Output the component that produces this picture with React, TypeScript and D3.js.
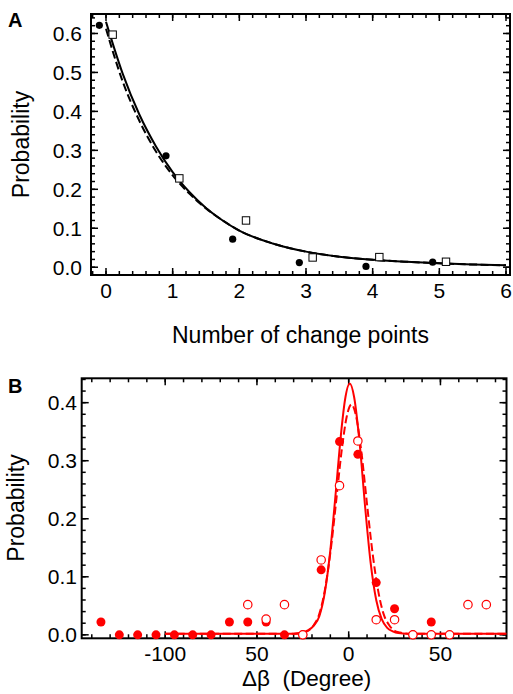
import React from "react";
import * as d3 from "d3";

// ---------- Panel A data ----------
const aCircleX = [-0.1, 0.9, 1.9, 2.9, 3.9, 4.9];
const aCircleY = [0.621, 0.286, 0.072, 0.012, 0.002, 0.013];
const aSquareX = [0.1, 1.1, 2.1, 3.1, 4.1, 5.1];
const aSquareY = [0.597, 0.228, 0.12, 0.025, 0.026, 0.014];
const aSolidX = [0, 0.25, 0.5, 0.75, 1, 1.25, 1.5, 1.75, 2, 2.5, 3, 3.5, 4, 4.5, 5, 5.5, 6];
const aSolidY = [0.63, 0.497, 0.392, 0.31, 0.244, 0.193, 0.152, 0.12, 0.094, 0.061, 0.04, 0.027, 0.019, 0.014, 0.01, 0.007, 0.005];
const aDashX = [0, 0.25, 0.5, 0.75, 1, 1.25, 1.5, 1.75, 2, 2.5, 3, 3.5, 4, 4.5, 5, 5.5, 6];
const aDashY = [0.612, 0.477, 0.376, 0.297, 0.236, 0.189, 0.151, 0.12, 0.094, 0.061, 0.04, 0.027, 0.019, 0.014, 0.01, 0.007, 0.005];
const aXTicks = [0, 1, 2, 3, 4, 5, 6];
const aYTicks = [0, 0.1, 0.2, 0.3, 0.4, 0.5, 0.6];

// ---------- Panel B data ----------
const bFilledX = [-135, -125, -115, -105, -95, -85, -75, -65, -55, -45, -35, -25, -15, -5, 5, 15, 25, 35, 45];
const bFilledY = [0.022, 0, 0, 0, 0, 0, 0, 0.022, 0.022, 0.022, 0, 0, 0.112, 0.333, 0.311, 0.09, 0.045, 0, 0.022];
const bOpenX = [-55, -45, -35, -25, -15, -5, 5, 15, 25, 35, 45, 55, 65, 75];
const bOpenY = [0.052, 0.027, 0.052, 0, 0.129, 0.257, 0.334, 0.026, 0.026, 0, 0, 0, 0.052, 0.052];
const bSolidX = [-100, -30, -25, -22, -19, -16, -13, -10, -7, -4, -2, 0.6, 3, 6, 9, 12, 15, 18, 21, 24, 27, 32, 86];
const bSolidY = [0.002, 0.002, 0.004, 0.008, 0.016, 0.032, 0.073, 0.146, 0.247, 0.352, 0.405, 0.433, 0.409, 0.329, 0.219, 0.123, 0.06, 0.027, 0.012, 0.006, 0.003, 0.002, 0.002];
const bDashX = [-100, -30, -25, -22, -19, -16, -13, -10, -7, -4, -1, 1.5, 4, 7, 10, 13, 16, 19, 22, 25, 28, 33, 86];
const bDashY = [0.002, 0.002, 0.004, 0.007, 0.017, 0.036, 0.077, 0.141, 0.225, 0.313, 0.377, 0.397, 0.377, 0.313, 0.225, 0.141, 0.077, 0.036, 0.017, 0.007, 0.004, 0.002, 0.002];
const bXTicks = [-100, -50, 0, 50];
const bXTickLabels = ["-100", "50", "0", "50"];
const bYTicks = [0, 0.1, 0.2, 0.3, 0.4];

const FONT = "'Liberation Sans', Arial, Helvetica, sans-serif";

type Scale = d3.ScaleLinear<number, number>;

function Frame({ x, y, xMajor, xMinor, yMajor, yMinor }: { x: Scale; y: Scale; xMajor: number[]; xMinor: number[]; yMajor: number[]; yMinor: number[] }) {
  const [x0, x1] = x.range();
  const [y0, y1] = y.range();
  const lines: JSX.Element[] = [];
  const M = 7, m = 4;
  const addX = (v: number, len: number, key: string) => {
    const px = x(v);
    if (px < x0 + 1 || px > x1 - 1) return;
    lines.push(<line key={"b" + key} x1={px} x2={px} y1={y0} y2={y0 - len} />);
    lines.push(<line key={"t" + key} x1={px} x2={px} y1={y1} y2={y1 + len} />);
  };
  const addY = (v: number, len: number, key: string) => {
    const py = y(v);
    if (py > y0 - 1 || py < y1 + 1) return;
    lines.push(<line key={"l" + key} x1={x0} x2={x0 + len} y1={py} y2={py} />);
    lines.push(<line key={"r" + key} x1={x1} x2={x1 - len} y1={py} y2={py} />);
  };
  xMajor.forEach((v, i) => addX(v, M, "M" + i));
  xMinor.forEach((v, i) => addX(v, m, "m" + i));
  yMajor.forEach((v, i) => addY(v, M, "M" + i));
  yMinor.forEach((v, i) => addY(v, m, "m" + i));
  return (
    <g>
      <g stroke="#000" strokeWidth={1.5}>{lines}</g>
      <rect x={x0} y={y1} width={x1 - x0} height={y0 - y1} fill="none" stroke="#000" strokeWidth={2} />
    </g>
  );
}

function range(a: number, b: number, s: number) {
  const out: number[] = [];
  for (let i = 0; a + i * s <= b + 1e-9; i++) out.push(+(a + i * s).toFixed(6));
  return out;
}

export default function App() {
  const xA = d3.scaleLinear().domain([-0.225, 6.06]).range([91, 510]);
  const yA = d3.scaleLinear().domain([-0.02, 0.65]).range([275, 14]);
  const xB = d3.scaleLinear().domain([-145.5, 86]).range([81.7, 506.5]);
  const yB = d3.scaleLinear().domain([-0.006, 0.442]).range([638.3, 378.3]);

  const lineA = d3.line<[number, number]>().x((d) => xA(d[0])).y((d) => yA(d[1])).curve(d3.curveMonotoneX);
  const lineB = d3.line<[number, number]>().x((d) => xB(d[0])).y((d) => yB(d[1])).curve(d3.curveMonotoneX);

  const aSolid = aSolidX.map((v, i) => [v, aSolidY[i]] as [number, number]);
  const aDash = aDashX.map((v, i) => [v, aDashY[i]] as [number, number]);
  const bSolid = bSolidX.map((v, i) => [v, bSolidY[i]] as [number, number]);
  const bDash = bDashX.map((v, i) => [v, bDashY[i]] as [number, number]);

  const red = "#ff0000";

  return (
    <svg width={513} height={694} style={{ position: "absolute", left: 0, top: 0, background: "#fff" }} fontFamily={FONT}>
      <rect x={0} y={0} width={513} height={694} fill="#fff" />
      {/* ---------- Panel A ---------- */}
      <text x={8} y={27} fontSize={20} fontWeight="bold">A</text>
      <Frame x={xA} y={yA} xMajor={aXTicks} xMinor={range(-0.2, 6, 0.2)} yMajor={aYTicks} yMinor={range(0, 0.64, 0.02)} />
      {aYTicks.map((t) => (
        <text key={"ay" + t} x={82} y={yA(t) + 7.5} fontSize={21} textAnchor="end">{t.toFixed(1)}</text>
      ))}
      {aXTicks.map((t) => (
        <text key={"ax" + t} x={xA(t)} y={298} fontSize={21} textAnchor="middle">{t}</text>
      ))}
      <text x={300.5} y={343} fontSize={23} textAnchor="middle">Number of change points</text>
      <text transform={`translate(29,144.5) rotate(-90)`} fontSize={23} textAnchor="middle">Probability</text>
      <path d={lineA(aDash) || ""} fill="none" stroke="#000" strokeWidth={2} strokeDasharray="8,3.5" />
      <path d={lineA(aSolid) || ""} fill="none" stroke="#000" strokeWidth={2} />
      {aCircleX.map((v, i) => (
        <circle key={"ac" + i} cx={xA(v)} cy={yA(aCircleY[i])} r={3.6} fill="#000" />
      ))}
      {aSquareX.map((v, i) => (
        <rect key={"as" + i} x={xA(v) - 3.7} y={yA(aSquareY[i]) - 3.7} width={7.4} height={7.4} fill="#fff" stroke="#000" strokeWidth={1} />
      ))}

      {/* ---------- Panel B ---------- */}
      <text x={8} y={393} fontSize={20} fontWeight="bold">B</text>
      <Frame x={xB} y={yB} xMajor={bXTicks} xMinor={range(-140, 80, 10)} yMajor={bYTicks} yMinor={range(0, 0.44, 0.02)} />
      {bYTicks.map((t) => (
        <text key={"by" + t} x={77} y={yB(t) + 7.5} fontSize={21} textAnchor="end">{t.toFixed(1)}</text>
      ))}
      {bXTicks.map((t, i) => (
        <text key={"bx" + t} x={xB(t)} y={660.5} fontSize={21} textAnchor="middle">{bXTickLabels[i]}</text>
      ))}
      <text x={242} y={686} fontSize={22.5} style={{ whiteSpace: "pre" }}>{"Δβ  (Degree)"}</text>
      <text transform={`translate(24,508) rotate(-90)`} fontSize={23} textAnchor="middle">Probability</text>
      <path d={lineB(bDash) || ""} fill="none" stroke={red} strokeWidth={2} strokeDasharray="8,3.5" />
      <path d={lineB(bSolid) || ""} fill="none" stroke={red} strokeWidth={2} />
      {bFilledX.map((v, i) => (
        <circle key={"bf" + i} cx={xB(v)} cy={yB(bFilledY[i])} r={4.5} fill={red} />
      ))}
      {bOpenX.map((v, i) => (
        <circle key={"bo" + i} cx={xB(v)} cy={yB(bOpenY[i])} r={4.2} fill="#fff" stroke={red} strokeWidth={1.2} />
      ))}
    </svg>
  );
}
